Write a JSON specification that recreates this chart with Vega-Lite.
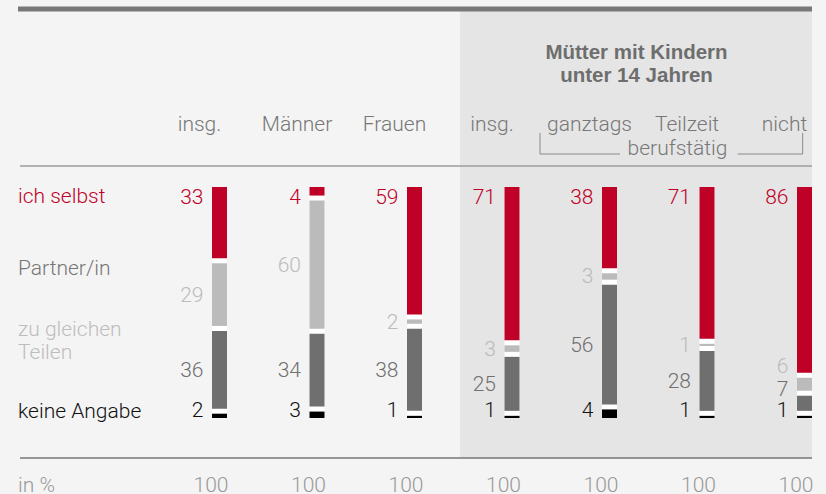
{
  "$schema": "https://vega.github.io/schema/vega-lite/v6.json",
  "width": 826,
  "height": 494,
  "autosize": "none",
  "padding": 0,
  "background": "#f4f4f4",
  "config": {
    "view": {"stroke": null},
    "text": {"font": "Roboto", "fontWeight": 300, "fontSize": 21}
  },
  "datasets": {
    "vals": [
      {"grp": "insg.", "cat": "ich selbst", "o": 4, "v": 33},
      {"grp": "insg.", "cat": "Partner/in", "o": 3, "v": 29},
      {"grp": "insg.", "cat": "zu gleichen Teilen", "o": 2, "v": 36},
      {"grp": "insg.", "cat": "keine Angabe", "o": 1, "v": 2},
      {"grp": "Männer", "cat": "ich selbst", "o": 4, "v": 4},
      {"grp": "Männer", "cat": "Partner/in", "o": 3, "v": 60},
      {"grp": "Männer", "cat": "zu gleichen Teilen", "o": 2, "v": 34},
      {"grp": "Männer", "cat": "keine Angabe", "o": 1, "v": 3},
      {"grp": "Frauen", "cat": "ich selbst", "o": 4, "v": 59},
      {"grp": "Frauen", "cat": "Partner/in", "o": 3, "v": 2},
      {"grp": "Frauen", "cat": "zu gleichen Teilen", "o": 2, "v": 38},
      {"grp": "Frauen", "cat": "keine Angabe", "o": 1, "v": 1},
      {"grp": "Mütter insg.", "cat": "ich selbst", "o": 4, "v": 71},
      {"grp": "Mütter insg.", "cat": "Partner/in", "o": 3, "v": 3},
      {"grp": "Mütter insg.", "cat": "zu gleichen Teilen", "o": 2, "v": 25},
      {"grp": "Mütter insg.", "cat": "keine Angabe", "o": 1, "v": 1},
      {"grp": "ganztags", "cat": "ich selbst", "o": 4, "v": 38},
      {"grp": "ganztags", "cat": "Partner/in", "o": 3, "v": 3},
      {"grp": "ganztags", "cat": "zu gleichen Teilen", "o": 2, "v": 56},
      {"grp": "ganztags", "cat": "keine Angabe", "o": 1, "v": 4},
      {"grp": "Teilzeit", "cat": "ich selbst", "o": 4, "v": 71},
      {"grp": "Teilzeit", "cat": "Partner/in", "o": 3, "v": 1},
      {"grp": "Teilzeit", "cat": "zu gleichen Teilen", "o": 2, "v": 28},
      {"grp": "Teilzeit", "cat": "keine Angabe", "o": 1, "v": 1},
      {"grp": "nicht", "cat": "ich selbst", "o": 4, "v": 86},
      {"grp": "nicht", "cat": "Partner/in", "o": 3, "v": 6},
      {"grp": "nicht", "cat": "zu gleichen Teilen", "o": 2, "v": 7},
      {"grp": "nicht", "cat": "keine Angabe", "o": 1, "v": 1}
    ],
    "cols": [
      {"grp": "insg.", "label": "insg.", "total": 100},
      {"grp": "Männer", "label": "Männer", "total": 100},
      {"grp": "Frauen", "label": "Frauen", "total": 100},
      {"grp": "Mütter insg.", "label": "insg.", "total": 100},
      {"grp": "ganztags", "label": "ganztags", "total": 100},
      {"grp": "Teilzeit", "label": "Teilzeit", "total": 100},
      {"grp": "nicht", "label": "nicht", "total": 100}
    ]
  },
  "layer": [
    {
      "data": {"values": [{}]},
      "mark": {"type": "rect", "color": "#e5e5e5", "xOffset": -52, "x2Offset": 7.5},
      "encoding": {
        "x": {"datum": "Mütter insg.", "type": "nominal", "scale": {"type": "point", "domain": ["insg.", "Männer", "Frauen", "Mütter insg.", "ganztags", "Teilzeit", "nicht"], "range": [219.5, 804.5], "padding": 0}, "axis": null},
        "x2": {"datum": "nicht"},
        "y": {"datum": 1.88426, "type": "quantitative", "scale": {"domain": [-0.35185, 1.93519], "nice": false, "zero": false}, "axis": null},
        "y2": {"datum": -0.18519}
      }
    },
    {
      "data": {"values": [{}]},
      "mark": {"type": "rule", "color": "#787878", "strokeWidth": 5, "xOffset": -201.5, "x2Offset": 7.5},
      "encoding": {
        "x": {"datum": "insg.", "type": "nominal"},
        "x2": {"datum": "nicht"},
        "y": {"datum": 1.89352, "type": "quantitative"}
      }
    },
    {
      "data": {"values": [{}]},
      "mark": {"type": "rule", "color": "#9c9c9c", "strokeWidth": 1.5, "xOffset": -199.5, "x2Offset": 7.5},
      "encoding": {
        "x": {"datum": "insg.", "type": "nominal"},
        "x2": {"datum": "nicht"},
        "y": {"datum": 1.16667, "type": "quantitative"}
      }
    },
    {
      "data": {"values": [{}]},
      "mark": {"type": "rule", "color": "#777777", "strokeWidth": 1.3, "xOffset": -199.5, "x2Offset": 7.5},
      "encoding": {
        "x": {"datum": "insg.", "type": "nominal"},
        "x2": {"datum": "nicht"},
        "y": {"datum": -0.18519, "type": "quantitative"}
      }
    },
    {
      "data": {"values": [{}]},
      "mark": {"type": "rule", "color": "#8a8a8a", "strokeWidth": 1, "xOffset": -69.5},
      "encoding": {
        "x": {"datum": "ganztags", "type": "nominal"},
        "y": {"datum": 1.31944, "type": "quantitative"},
        "y2": {"datum": 1.22222}
      }
    },
    {
      "data": {"values": [{}]},
      "mark": {"type": "rule", "color": "#8a8a8a", "strokeWidth": 1, "xOffset": -69.5, "x2Offset": 10.5},
      "encoding": {
        "x": {"datum": "ganztags", "type": "nominal"},
        "x2": {"datum": "ganztags"},
        "y": {"datum": 1.22222, "type": "quantitative"}
      }
    },
    {
      "data": {"values": [{}]},
      "mark": {"type": "rule", "color": "#8a8a8a", "strokeWidth": 1, "xOffset": -66.8, "x2Offset": -1.8},
      "encoding": {
        "x": {"datum": "nicht", "type": "nominal"},
        "x2": {"datum": "nicht"},
        "y": {"datum": 1.22222, "type": "quantitative"}
      }
    },
    {
      "data": {"values": [{}]},
      "mark": {"type": "rule", "color": "#8a8a8a", "strokeWidth": 1, "xOffset": -1.8},
      "encoding": {
        "x": {"datum": "nicht", "type": "nominal"},
        "y": {"datum": 1.31944, "type": "quantitative"},
        "y2": {"datum": 1.22222}
      }
    },
    {
      "data": {"values": [{}]},
      "mark": {"type": "text", "text": ["Mütter mit Kindern", "unter 14 Jahren"], "font": "Liberation Sans", "fontWeight": "bold", "fontSize": 20.5, "color": "#6e6e6e", "align": "center", "baseline": "alphabetic", "lineHeight": 22.4, "dx": 27},
      "encoding": {
        "x": {"datum": "ganztags", "type": "nominal"},
        "y": {"datum": 1.66065, "type": "quantitative"}
      }
    },
    {
      "data": {"values": [{}]},
      "mark": {"type": "text", "text": "berufstätig", "color": "#777777", "align": "center", "baseline": "alphabetic", "dx": -29.5},
      "encoding": {
        "x": {"datum": "Teilzeit", "type": "nominal"},
        "y": {"datum": 1.21759, "type": "quantitative"}
      }
    },
    {
      "data": {"values": [{}]},
      "mark": {"type": "text", "text": "ich selbst", "color": "#bf0027", "align": "left", "baseline": "alphabetic", "dx": -201.5},
      "encoding": {
        "x": {"datum": "insg.", "type": "nominal"},
        "y": {"datum": 0.99537, "type": "quantitative"}
      }
    },
    {
      "data": {"values": [{}]},
      "mark": {"type": "text", "text": "Partner/in", "color": "#767676", "align": "left", "baseline": "alphabetic", "dx": -201.5},
      "encoding": {
        "x": {"datum": "insg.", "type": "nominal"},
        "y": {"datum": 0.66204, "type": "quantitative"}
      }
    },
    {
      "data": {"values": [{}]},
      "mark": {"type": "text", "text": ["zu gleichen", "Teilen"], "color": "#bdbdbd", "align": "left", "baseline": "alphabetic", "lineHeight": 23.3, "dx": -201.5},
      "encoding": {
        "x": {"datum": "insg.", "type": "nominal"},
        "y": {"datum": 0.38102, "type": "quantitative"}
      }
    },
    {
      "data": {"values": [{}]},
      "mark": {"type": "text", "text": "keine Angabe", "color": "#111111", "align": "left", "baseline": "alphabetic", "dx": -201.5},
      "encoding": {
        "x": {"datum": "insg.", "type": "nominal"},
        "y": {"datum": 0, "type": "quantitative"}
      }
    },
    {
      "data": {"values": [{}]},
      "mark": {"type": "text", "text": "in %", "color": "#999999", "align": "left", "baseline": "alphabetic", "dx": -201.5},
      "encoding": {
        "x": {"datum": "insg.", "type": "nominal"},
        "y": {"datum": -0.34259, "type": "quantitative"}
      }
    },
    {
      "data": {"name": "cols"},
      "mark": {"type": "text", "color": "#777777", "align": "center", "baseline": "alphabetic", "dx": -20},
      "encoding": {
        "x": {"field": "grp", "type": "nominal"},
        "y": {"datum": 1.3287, "type": "quantitative"},
        "text": {"field": "label"}
      }
    },
    {
      "data": {"name": "cols"},
      "mark": {"type": "text", "color": "#999999", "align": "right", "baseline": "alphabetic", "dx": 9},
      "encoding": {
        "x": {"field": "grp", "type": "nominal"},
        "y": {"datum": -0.34259, "type": "quantitative"},
        "text": {"field": "total", "type": "quantitative"}
      }
    },
    {
      "data": {"name": "cols"},
      "mark": {"type": "bar", "width": 15, "color": "#ffffff", "yOffset": -15},
      "encoding": {
        "x": {"field": "grp", "type": "nominal"},
        "y": {"datum": 1, "type": "quantitative"},
        "y2": {"datum": 0}
      }
    },
    {
      "data": {"name": "vals"},
      "encoding": {
        "x": {"field": "grp", "type": "nominal"},
        "y": {"field": "v", "type": "quantitative", "stack": "normalize"},
        "detail": {"field": "cat", "type": "nominal"},
        "order": {"field": "o", "type": "quantitative"}
      },
      "layer": [
        {
          "mark": {"type": "bar", "width": 15, "color": "#000000", "yOffset": 0, "y2Offset": 0},
          "encoding": {"opacity": {"condition": {"test": "datum.cat === 'keine Angabe'", "value": 1}, "value": 0}}
        },
        {
          "mark": {"type": "bar", "width": 15, "color": "#6f6f6f", "yOffset": -5, "y2Offset": -5},
          "encoding": {"opacity": {"condition": {"test": "datum.cat === 'zu gleichen Teilen'", "value": 1}, "value": 0}}
        },
        {
          "mark": {"type": "bar", "width": 15, "color": "#bbbbbb", "yOffset": -10, "y2Offset": -10},
          "encoding": {"opacity": {"condition": {"test": "datum.cat === 'Partner/in'", "value": 1}, "value": 0}}
        },
        {
          "mark": {"type": "bar", "width": 15, "color": "#bf0027", "yOffset": -15, "y2Offset": -15},
          "encoding": {"opacity": {"condition": {"test": "datum.cat === 'ich selbst'", "value": 1}, "value": 0}}
        },
        {
          "mark": {"type": "text", "color": "#bf0027", "align": "right", "baseline": "top", "dx": -16, "dy": -15},
          "encoding": {
            "text": {"field": "v", "type": "quantitative", "condition": {"test": "datum.cat !== 'ich selbst'", "value": ""}}
          }
        },
        {
          "mark": {"type": "text", "color": "#bbbbbb", "align": "right", "baseline": "middle", "dx": -16, "dy": -9},
          "encoding": {
            "y": {"field": "v", "type": "quantitative", "stack": "normalize", "bandPosition": 0.5},
            "text": {"field": "v", "type": "quantitative", "condition": {"test": "datum.cat !== 'Partner/in' || datum.grp === 'nicht'", "value": ""}}
          }
        },
        {
          "mark": {"type": "text", "color": "#bbbbbb", "align": "right", "baseline": "middle", "dx": -16, "dy": -27},
          "encoding": {
            "y": {"field": "v", "type": "quantitative", "stack": "normalize", "bandPosition": 0.5},
            "text": {"field": "v", "type": "quantitative", "condition": {"test": "datum.cat !== 'Partner/in' || datum.grp !== 'nicht'", "value": ""}}
          }
        },
        {
          "mark": {"type": "text", "color": "#707070", "align": "right", "baseline": "middle", "dx": -16, "dy": -4},
          "encoding": {
            "y": {"field": "v", "type": "quantitative", "stack": "normalize", "bandPosition": 0.5},
            "text": {"field": "v", "type": "quantitative", "condition": {"test": "datum.cat !== 'zu gleichen Teilen' || datum.grp === 'nicht'", "value": ""}}
          }
        },
        {
          "mark": {"type": "text", "color": "#707070", "align": "right", "baseline": "middle", "dx": -16, "dy": -18},
          "encoding": {
            "y": {"field": "v", "type": "quantitative", "stack": "normalize", "bandPosition": 0.5},
            "text": {"field": "v", "type": "quantitative", "condition": {"test": "datum.cat !== 'zu gleichen Teilen' || datum.grp !== 'nicht'", "value": ""}}
          }
        },
        {
          "mark": {"type": "text", "color": "#111111", "align": "right", "baseline": "alphabetic", "dx": -16, "dy": -1},
          "encoding": {
            "y": {"field": "v", "type": "quantitative", "stack": "normalize", "bandPosition": 0},
            "text": {"field": "v", "type": "quantitative", "condition": {"test": "datum.cat !== 'keine Angabe'", "value": ""}}
          }
        }
      ]
    }
  ]
}
